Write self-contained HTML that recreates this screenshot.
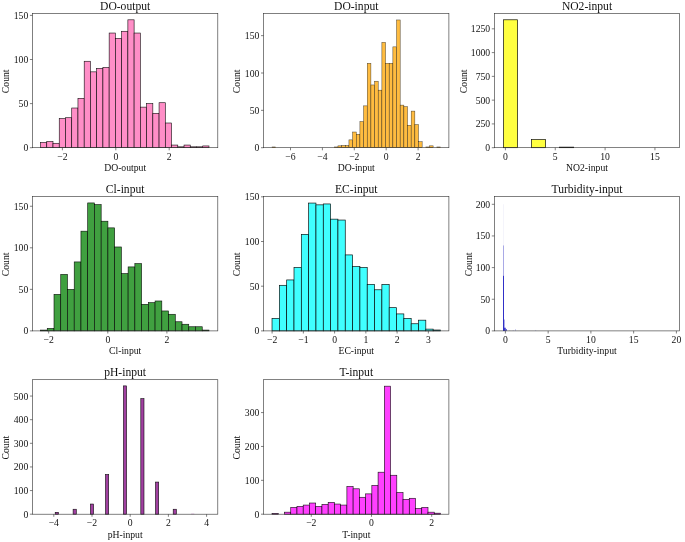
<!DOCTYPE html>
<html><head><meta charset="utf-8"><title>Histograms</title>
<style>html,body{margin:0;padding:0;background:#fff}body{width:685px;height:542px;overflow:hidden;font-family:"Liberation Serif",serif}</style></head>
<body>
<svg width="685" height="542" viewBox="0 0 685 542" style="display:block;font-family:'Liberation Serif',serif">
<rect width="685" height="542" fill="#fff"/><g opacity="0.999">
<g fill="rgb(255,142,199)" stroke="#000" stroke-width="0.62" stroke-opacity="0.92"><rect x="40.52" y="142.41" width="6.24" height="5.29"/><rect x="46.76" y="141.53" width="6.24" height="6.17"/><rect x="53.00" y="143.29" width="6.24" height="4.41"/><rect x="59.24" y="118.59" width="6.24" height="29.11"/><rect x="65.48" y="117.71" width="6.24" height="29.99"/><rect x="71.72" y="108.01" width="6.24" height="39.69"/><rect x="77.96" y="98.31" width="6.24" height="49.39"/><rect x="84.20" y="61.26" width="6.24" height="86.44"/><rect x="90.44" y="71.85" width="6.24" height="75.85"/><rect x="96.67" y="68.32" width="6.24" height="79.38"/><rect x="102.91" y="67.44" width="6.24" height="80.26"/><rect x="109.15" y="33.04" width="6.24" height="114.66"/><rect x="115.39" y="38.33" width="6.24" height="109.37"/><rect x="121.63" y="31.28" width="6.24" height="116.42"/><rect x="127.87" y="19.81" width="6.24" height="127.89"/><rect x="134.11" y="33.04" width="6.24" height="114.66"/><rect x="140.35" y="107.13" width="6.24" height="40.57"/><rect x="146.59" y="103.60" width="6.24" height="44.10"/><rect x="152.83" y="113.30" width="6.24" height="34.40"/><rect x="159.06" y="102.72" width="6.24" height="44.98"/><rect x="165.30" y="123.00" width="6.24" height="24.70"/><rect x="171.54" y="145.05" width="6.24" height="2.65"/><rect x="177.78" y="146.82" width="6.24" height="0.88"/><rect x="184.02" y="145.05" width="6.24" height="2.65"/><rect x="190.26" y="146.82" width="6.24" height="0.88"/><rect x="196.50" y="146.82" width="6.24" height="0.88"/><rect x="202.74" y="145.94" width="6.24" height="1.76"/></g>
<rect x="32.5" y="13.5" width="185.30" height="134.20" fill="none" stroke="#333" stroke-width="0.62"/>
<path d="M62.40 147.7v2.6M115.80 147.7v2.6M169.20 147.7v2.6M32.5 147.70h-2.6M32.5 103.60h-2.6M32.5 59.50h-2.6M32.5 15.40h-2.6" stroke="#333" stroke-width="0.62" fill="none"/>
<g font-size="9.7" fill="#111"><text x="62.40" y="159.80" text-anchor="middle">−2</text><text x="115.80" y="159.80" text-anchor="middle">0</text><text x="169.20" y="159.80" text-anchor="middle">2</text><text x="28.30" y="151.20" text-anchor="end">0</text><text x="28.30" y="107.10" text-anchor="end">50</text><text x="28.30" y="63.00" text-anchor="end">100</text><text x="28.30" y="18.90" text-anchor="end">150</text></g>
<text x="125.15" y="9.90" font-size="11.6" text-anchor="middle" fill="#111">DO-output</text>
<text x="125.15" y="171.00" font-size="9.7" text-anchor="middle" fill="#111">DO-output</text>
<text transform="translate(8.80,81.30) rotate(-90)" font-size="9.7" text-anchor="middle" fill="#111">Count</text>
<g fill="rgb(255,188,64)" stroke="#000" stroke-width="0.5" stroke-opacity="0.7"><rect x="272.02" y="146.95" width="3.66" height="0.75"/><rect x="334.28" y="146.95" width="3.66" height="0.75"/><rect x="337.94" y="145.83" width="3.66" height="1.87"/><rect x="341.60" y="145.46" width="3.66" height="2.24"/><rect x="345.26" y="145.46" width="3.66" height="2.24"/><rect x="348.93" y="139.86" width="3.66" height="7.84"/><rect x="352.59" y="132.01" width="3.66" height="15.69"/><rect x="356.25" y="134.25" width="3.66" height="13.45"/><rect x="359.91" y="121.55" width="3.66" height="26.14"/><rect x="363.57" y="105.87" width="3.66" height="41.83"/><rect x="367.24" y="63.29" width="3.66" height="84.41"/><rect x="370.90" y="84.95" width="3.66" height="62.75"/><rect x="374.56" y="81.22" width="3.66" height="66.48"/><rect x="378.22" y="90.18" width="3.66" height="57.52"/><rect x="381.88" y="42.37" width="3.66" height="105.33"/><rect x="385.55" y="63.29" width="3.66" height="84.41"/><rect x="389.21" y="63.29" width="3.66" height="84.41"/><rect x="392.87" y="46.85" width="3.66" height="100.84"/><rect x="396.53" y="19.96" width="3.66" height="127.74"/><rect x="400.19" y="105.12" width="3.66" height="42.58"/><rect x="403.86" y="106.61" width="3.66" height="41.09"/><rect x="407.52" y="125.29" width="3.66" height="22.41"/><rect x="411.18" y="111.10" width="3.66" height="36.60"/><rect x="414.84" y="124.54" width="3.66" height="23.16"/><rect x="418.50" y="141.72" width="3.66" height="5.98"/><rect x="425.83" y="146.95" width="3.66" height="0.75"/><rect x="429.49" y="145.83" width="3.66" height="1.87"/><rect x="436.82" y="146.95" width="3.66" height="0.75"/></g>
<rect x="263.6" y="13.5" width="185.30" height="134.20" fill="none" stroke="#333" stroke-width="0.62"/>
<path d="M290.50 147.7v2.6M322.40 147.7v2.6M354.30 147.7v2.6M386.20 147.7v2.6M418.10 147.7v2.6M263.6 147.70h-2.6M263.6 110.35h-2.6M263.6 73.00h-2.6M263.6 35.65h-2.6" stroke="#333" stroke-width="0.62" fill="none"/>
<g font-size="9.7" fill="#111"><text x="290.50" y="159.80" text-anchor="middle">−6</text><text x="322.40" y="159.80" text-anchor="middle">−4</text><text x="354.30" y="159.80" text-anchor="middle">−2</text><text x="386.20" y="159.80" text-anchor="middle">0</text><text x="418.10" y="159.80" text-anchor="middle">2</text><text x="259.40" y="151.20" text-anchor="end">0</text><text x="259.40" y="113.85" text-anchor="end">50</text><text x="259.40" y="76.50" text-anchor="end">100</text><text x="259.40" y="39.15" text-anchor="end">150</text></g>
<text x="356.25" y="9.90" font-size="11.6" text-anchor="middle" fill="#111">DO-input</text>
<text x="356.25" y="171.00" font-size="9.7" text-anchor="middle" fill="#111">DO-input</text>
<text transform="translate(239.90,81.30) rotate(-90)" font-size="9.7" text-anchor="middle" fill="#111">Count</text>
<g fill="rgb(255,255,64)" stroke="#000" stroke-width="0.7" stroke-opacity="0.95"><rect x="503.52" y="19.79" width="14.03" height="127.91"/><rect x="531.58" y="139.62" width="14.03" height="8.08"/><rect x="559.64" y="147.13" width="14.03" height="0.57"/></g>
<rect x="494.4" y="13.5" width="185.20" height="134.20" fill="none" stroke="#333" stroke-width="0.62"/>
<path d="M505.40 147.7v2.6M555.25 147.7v2.6M605.10 147.7v2.6M654.95 147.7v2.6M494.4 147.70h-2.6M494.4 123.92h-2.6M494.4 100.15h-2.6M494.4 76.37h-2.6M494.4 52.60h-2.6M494.4 28.82h-2.6" stroke="#333" stroke-width="0.62" fill="none"/>
<g font-size="9.7" fill="#111"><text x="505.40" y="159.80" text-anchor="middle">0</text><text x="555.25" y="159.80" text-anchor="middle">5</text><text x="605.10" y="159.80" text-anchor="middle">10</text><text x="654.95" y="159.80" text-anchor="middle">15</text><text x="490.20" y="151.20" text-anchor="end">0</text><text x="490.20" y="127.42" text-anchor="end">250</text><text x="490.20" y="103.65" text-anchor="end">500</text><text x="490.20" y="79.87" text-anchor="end">750</text><text x="490.20" y="56.10" text-anchor="end">1000</text><text x="490.20" y="32.32" text-anchor="end">1250</text></g>
<text x="587.00" y="9.90" font-size="11.6" text-anchor="middle" fill="#111">NO2-input</text>
<text x="587.00" y="171.00" font-size="9.7" text-anchor="middle" fill="#111">NO2-input</text>
<text transform="translate(467.20,81.30) rotate(-90)" font-size="9.7" text-anchor="middle" fill="#111">Count</text>
<g fill="rgb(64,160,64)" stroke="#000" stroke-width="0.62" stroke-opacity="0.92"><rect x="40.52" y="330.07" width="6.74" height="0.83"/><rect x="47.26" y="328.41" width="6.74" height="2.49"/><rect x="54.00" y="294.34" width="6.74" height="36.56"/><rect x="60.74" y="274.39" width="6.74" height="56.51"/><rect x="67.48" y="289.35" width="6.74" height="41.55"/><rect x="74.21" y="261.93" width="6.74" height="68.97"/><rect x="80.95" y="231.18" width="6.74" height="99.72"/><rect x="87.69" y="202.93" width="6.74" height="127.97"/><rect x="94.43" y="204.59" width="6.74" height="126.31"/><rect x="101.17" y="221.21" width="6.74" height="109.69"/><rect x="107.90" y="227.86" width="6.74" height="103.04"/><rect x="114.64" y="246.97" width="6.74" height="83.93"/><rect x="121.38" y="273.56" width="6.74" height="57.34"/><rect x="128.12" y="266.91" width="6.74" height="63.99"/><rect x="134.86" y="263.59" width="6.74" height="67.31"/><rect x="141.60" y="304.31" width="6.74" height="26.59"/><rect x="148.33" y="302.65" width="6.74" height="28.25"/><rect x="155.07" y="300.98" width="6.74" height="29.92"/><rect x="161.81" y="310.96" width="6.74" height="19.94"/><rect x="168.55" y="314.28" width="6.74" height="16.62"/><rect x="175.29" y="321.76" width="6.74" height="9.14"/><rect x="182.02" y="324.25" width="6.74" height="6.65"/><rect x="188.76" y="326.75" width="6.74" height="4.15"/><rect x="195.50" y="326.75" width="6.74" height="4.15"/><rect x="202.24" y="330.07" width="6.74" height="0.83"/></g>
<rect x="32.5" y="196.4" width="185.30" height="134.50" fill="none" stroke="#333" stroke-width="0.62"/>
<path d="M48.70 330.9v2.6M107.80 330.9v2.6M166.90 330.9v2.6M32.5 330.90h-2.6M32.5 289.35h-2.6M32.5 247.80h-2.6M32.5 206.25h-2.6" stroke="#333" stroke-width="0.62" fill="none"/>
<g font-size="9.7" fill="#111"><text x="48.70" y="343.00" text-anchor="middle">−2</text><text x="107.80" y="343.00" text-anchor="middle">0</text><text x="166.90" y="343.00" text-anchor="middle">2</text><text x="28.30" y="334.40" text-anchor="end">0</text><text x="28.30" y="292.85" text-anchor="end">50</text><text x="28.30" y="251.30" text-anchor="end">100</text><text x="28.30" y="209.75" text-anchor="end">150</text></g>
<text x="125.15" y="192.80" font-size="11.6" text-anchor="middle" fill="#111">Cl-input</text>
<text x="125.15" y="354.20" font-size="9.7" text-anchor="middle" fill="#111">Cl-input</text>
<text transform="translate(8.80,264.35) rotate(-90)" font-size="9.7" text-anchor="middle" fill="#111">Count</text>
<g fill="rgb(64,255,255)" stroke="#000" stroke-width="0.68" stroke-opacity="0.95"><rect x="272.02" y="318.38" width="7.32" height="12.52"/><rect x="279.35" y="285.31" width="7.32" height="45.59"/><rect x="286.67" y="279.94" width="7.32" height="50.96"/><rect x="294.00" y="267.43" width="7.32" height="63.47"/><rect x="301.32" y="234.35" width="7.32" height="96.55"/><rect x="308.64" y="203.06" width="7.32" height="127.84"/><rect x="315.97" y="204.85" width="7.32" height="126.05"/><rect x="323.29" y="203.95" width="7.32" height="126.95"/><rect x="330.62" y="219.15" width="7.32" height="111.75"/><rect x="337.94" y="220.04" width="7.32" height="110.86"/><rect x="345.26" y="254.91" width="7.32" height="75.99"/><rect x="352.59" y="266.53" width="7.32" height="64.37"/><rect x="359.91" y="267.43" width="7.32" height="63.47"/><rect x="367.24" y="284.41" width="7.32" height="46.49"/><rect x="374.56" y="289.78" width="7.32" height="41.12"/><rect x="381.88" y="284.41" width="7.32" height="46.49"/><rect x="389.21" y="307.66" width="7.32" height="23.24"/><rect x="396.53" y="313.91" width="7.32" height="16.99"/><rect x="403.86" y="318.38" width="7.32" height="12.52"/><rect x="411.18" y="323.75" width="7.32" height="7.15"/><rect x="418.50" y="320.17" width="7.32" height="10.73"/><rect x="425.83" y="329.11" width="7.32" height="1.79"/><rect x="433.15" y="330.01" width="7.32" height="0.89"/></g>
<rect x="263.6" y="196.4" width="185.30" height="134.50" fill="none" stroke="#333" stroke-width="0.62"/>
<path d="M272.10 330.9v2.6M303.35 330.9v2.6M334.60 330.9v2.6M365.85 330.9v2.6M397.10 330.9v2.6M428.35 330.9v2.6M263.6 330.90h-2.6M263.6 286.20h-2.6M263.6 241.50h-2.6M263.6 196.80h-2.6" stroke="#333" stroke-width="0.62" fill="none"/>
<g font-size="9.7" fill="#111"><text x="272.10" y="343.00" text-anchor="middle">−2</text><text x="303.35" y="343.00" text-anchor="middle">−1</text><text x="334.60" y="343.00" text-anchor="middle">0</text><text x="365.85" y="343.00" text-anchor="middle">1</text><text x="397.10" y="343.00" text-anchor="middle">2</text><text x="428.35" y="343.00" text-anchor="middle">3</text><text x="259.40" y="334.40" text-anchor="end">0</text><text x="259.40" y="289.70" text-anchor="end">50</text><text x="259.40" y="245.00" text-anchor="end">100</text><text x="259.40" y="200.30" text-anchor="end">150</text></g>
<text x="356.25" y="192.80" font-size="11.6" text-anchor="middle" fill="#111">EC-input</text>
<text x="356.25" y="354.20" font-size="9.7" text-anchor="middle" fill="#111">EC-input</text>
<text transform="translate(239.90,264.35) rotate(-90)" font-size="9.7" text-anchor="middle" fill="#111">Count</text>
<rect x="503.05" y="204.30" width="0.9" height="126.60" fill="#5050c8" fill-opacity="0.07"/><rect x="503.05" y="245.44" width="0.9" height="85.45" fill="#3c3cc8" fill-opacity="0.45"/><rect x="503.0" y="275.83" width="1.0" height="55.07" fill="#3030c8"/><rect x="504.1" y="319.51" width="0.7" height="11.39" fill="#3c3cc8" fill-opacity="0.6"/><rect x="503.2" y="327.73" width="2.6" height="3.17" fill="#3030c8" fill-opacity="0.9"/><rect x="505.8" y="329.00" width="1.2" height="1.90" fill="#3030c8" fill-opacity="0.7"/><rect x="512.8" y="329.95" width="0.6" height="0.95" fill="#3030c8" fill-opacity="0.35"/><rect x="515.3" y="329.00" width="0.6" height="1.90" fill="#3030c8" fill-opacity="0.4"/><rect x="535.5" y="329.95" width="0.6" height="0.95" fill="#3030c8" fill-opacity="0.35"/><rect x="509.5" y="330.27" width="0.6" height="0.63" fill="#3030c8" fill-opacity="0.3"/>
<rect x="494.4" y="196.4" width="185.20" height="134.50" fill="none" stroke="#333" stroke-width="0.62"/>
<path d="M505.40 330.9v2.6M548.15 330.9v2.6M590.90 330.9v2.6M633.65 330.9v2.6M676.40 330.9v2.6M494.4 330.90h-2.6M494.4 299.25h-2.6M494.4 267.60h-2.6M494.4 235.95h-2.6M494.4 204.30h-2.6" stroke="#333" stroke-width="0.62" fill="none"/>
<g font-size="9.7" fill="#111"><text x="505.40" y="343.00" text-anchor="middle">0</text><text x="548.15" y="343.00" text-anchor="middle">5</text><text x="590.90" y="343.00" text-anchor="middle">10</text><text x="633.65" y="343.00" text-anchor="middle">15</text><text x="676.40" y="343.00" text-anchor="middle">20</text><text x="490.20" y="334.40" text-anchor="end">0</text><text x="490.20" y="302.75" text-anchor="end">50</text><text x="490.20" y="271.10" text-anchor="end">100</text><text x="490.20" y="239.45" text-anchor="end">150</text><text x="490.20" y="207.80" text-anchor="end">200</text></g>
<text x="587.00" y="192.80" font-size="11.6" text-anchor="middle" fill="#111">Turbidity-input</text>
<text x="587.00" y="354.20" font-size="9.7" text-anchor="middle" fill="#111">Turbidity-input</text>
<text transform="translate(471.60,264.35) rotate(-90)" font-size="9.7" text-anchor="middle" fill="#111">Count</text>
<g fill="rgb(160,64,160)" stroke="#000" stroke-width="0.62" stroke-opacity="0.92"><rect x="55.20" y="512.31" width="3.20" height="1.89"/><rect x="73.10" y="509.24" width="3.20" height="4.96"/><rect x="90.40" y="504.04" width="3.20" height="10.16"/><rect x="105.50" y="474.50" width="3.20" height="39.70"/><rect x="123.40" y="385.89" width="3.20" height="128.31"/><rect x="140.80" y="398.65" width="3.20" height="115.55"/><rect x="155.50" y="482.06" width="3.20" height="32.14"/><rect x="173.20" y="509.24" width="3.20" height="4.96"/><rect x="191.10" y="513.73" width="3.20" height="0.47" stroke="none" fill-opacity="0.6"/></g>
<rect x="32.5" y="379.7" width="185.30" height="134.50" fill="none" stroke="#333" stroke-width="0.62"/>
<path d="M53.80 514.2v2.6M92.00 514.2v2.6M130.20 514.2v2.6M168.40 514.2v2.6M206.60 514.2v2.6M32.5 514.20h-2.6M32.5 490.57h-2.6M32.5 466.94h-2.6M32.5 443.31h-2.6M32.5 419.68h-2.6M32.5 396.05h-2.6" stroke="#333" stroke-width="0.62" fill="none"/>
<g font-size="9.7" fill="#111"><text x="53.80" y="526.30" text-anchor="middle">−4</text><text x="92.00" y="526.30" text-anchor="middle">−2</text><text x="130.20" y="526.30" text-anchor="middle">0</text><text x="168.40" y="526.30" text-anchor="middle">2</text><text x="206.60" y="526.30" text-anchor="middle">4</text><text x="28.30" y="517.70" text-anchor="end">0</text><text x="28.30" y="494.07" text-anchor="end">100</text><text x="28.30" y="470.44" text-anchor="end">200</text><text x="28.30" y="446.81" text-anchor="end">300</text><text x="28.30" y="423.18" text-anchor="end">400</text><text x="28.30" y="399.55" text-anchor="end">500</text></g>
<text x="125.15" y="376.10" font-size="11.6" text-anchor="middle" fill="#111">pH-input</text>
<text x="125.15" y="537.50" font-size="9.7" text-anchor="middle" fill="#111">pH-input</text>
<text transform="translate(8.80,447.65) rotate(-90)" font-size="9.7" text-anchor="middle" fill="#111">Count</text>
<g fill="rgb(255,64,255)" stroke="#000" stroke-width="0.62" stroke-opacity="0.92"><rect x="272.02" y="513.52" width="6.24" height="0.68"/><rect x="284.50" y="512.17" width="6.24" height="2.03"/><rect x="290.74" y="507.43" width="6.24" height="6.77"/><rect x="296.98" y="506.41" width="6.24" height="7.79"/><rect x="303.22" y="505.06" width="6.24" height="9.14"/><rect x="309.46" y="503.02" width="6.24" height="11.18"/><rect x="315.70" y="506.41" width="6.24" height="7.79"/><rect x="321.94" y="504.38" width="6.24" height="9.82"/><rect x="328.17" y="502.35" width="6.24" height="11.85"/><rect x="334.41" y="504.04" width="6.24" height="10.16"/><rect x="340.65" y="505.06" width="6.24" height="9.14"/><rect x="346.89" y="486.43" width="6.24" height="27.77"/><rect x="353.13" y="488.80" width="6.24" height="25.40"/><rect x="359.37" y="497.27" width="6.24" height="16.93"/><rect x="365.61" y="493.88" width="6.24" height="20.32"/><rect x="371.85" y="485.41" width="6.24" height="28.79"/><rect x="378.09" y="472.20" width="6.24" height="42.00"/><rect x="384.33" y="386.17" width="6.24" height="128.03"/><rect x="390.56" y="475.25" width="6.24" height="38.95"/><rect x="396.80" y="492.52" width="6.24" height="21.68"/><rect x="403.04" y="499.30" width="6.24" height="14.90"/><rect x="409.28" y="498.28" width="6.24" height="15.92"/><rect x="415.52" y="508.44" width="6.24" height="5.76"/><rect x="421.76" y="507.43" width="6.24" height="6.77"/><rect x="428.00" y="512.17" width="6.24" height="2.03"/><rect x="434.24" y="513.18" width="6.24" height="1.02"/></g>
<rect x="263.6" y="379.7" width="185.30" height="134.50" fill="none" stroke="#333" stroke-width="0.62"/>
<path d="M311.30 514.2v2.6M371.50 514.2v2.6M431.70 514.2v2.6M263.6 514.20h-2.6M263.6 480.33h-2.6M263.6 446.46h-2.6M263.6 412.59h-2.6" stroke="#333" stroke-width="0.62" fill="none"/>
<g font-size="9.7" fill="#111"><text x="311.30" y="526.30" text-anchor="middle">−2</text><text x="371.50" y="526.30" text-anchor="middle">0</text><text x="431.70" y="526.30" text-anchor="middle">2</text><text x="259.40" y="517.70" text-anchor="end">0</text><text x="259.40" y="483.83" text-anchor="end">100</text><text x="259.40" y="449.96" text-anchor="end">200</text><text x="259.40" y="416.09" text-anchor="end">300</text></g>
<text x="356.25" y="376.10" font-size="11.6" text-anchor="middle" fill="#111">T-input</text>
<text x="356.25" y="537.50" font-size="9.7" text-anchor="middle" fill="#111">T-input</text>
<text transform="translate(239.90,447.65) rotate(-90)" font-size="9.7" text-anchor="middle" fill="#111">Count</text>
</g></svg>
</body></html>
